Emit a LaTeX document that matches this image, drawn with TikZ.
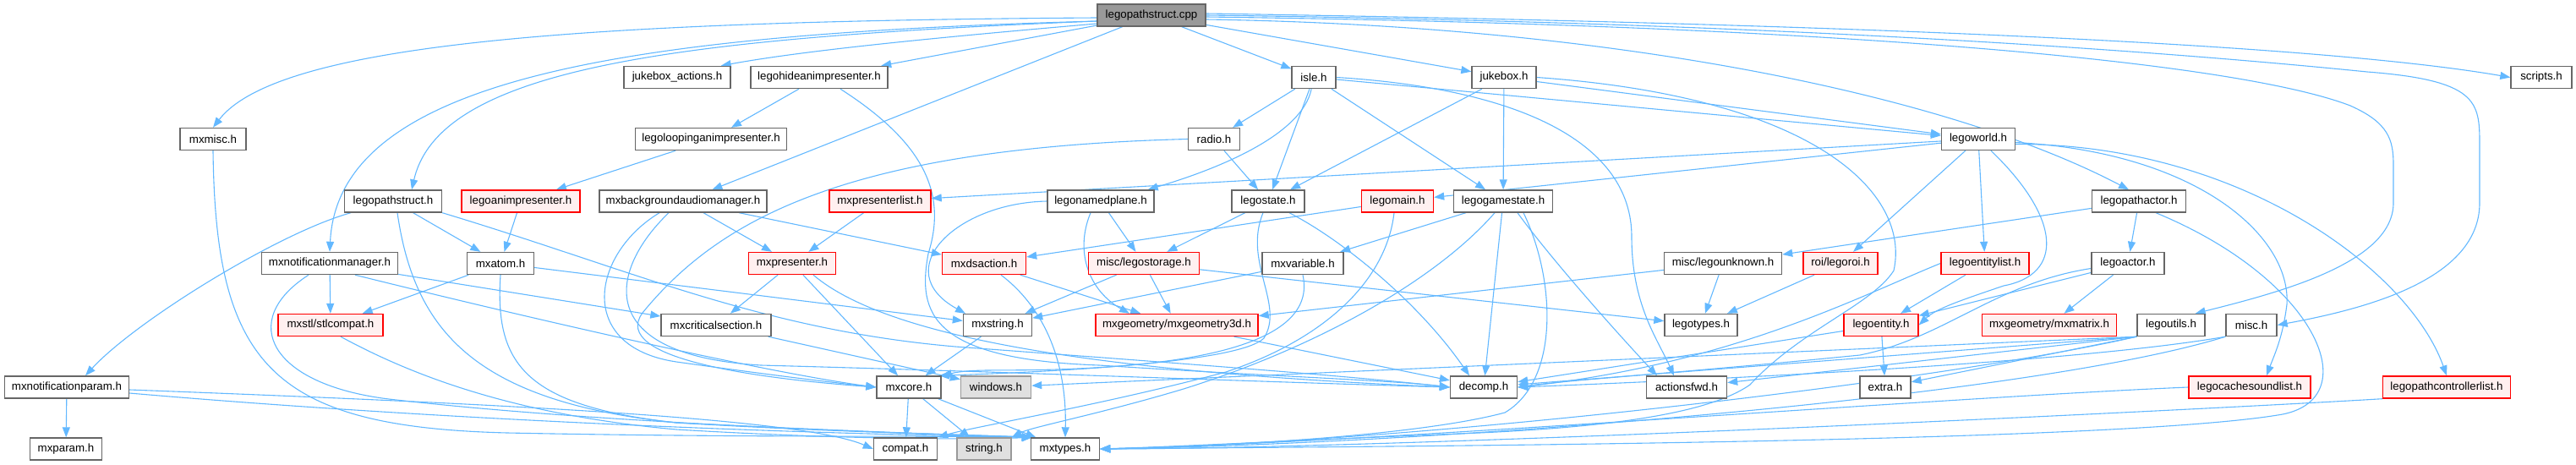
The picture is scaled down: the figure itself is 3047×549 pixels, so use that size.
\documentclass[tikz,border=0pt]{standalone}
\usepackage{fontspec}
\setmainfont{Liberation Sans}
\usetikzlibrary{arrows.meta}
\definecolor{edgec}{HTML}{63B8FF}
\definecolor{bordc}{HTML}{666666}
\definecolor{redf}{HTML}{FFF0F0}
\definecolor{topf}{HTML}{999999}
\definecolor{extf}{HTML}{E0E0E0}
\definecolor{extb}{HTML}{999999}
\pgfdeclarelayer{edges}
\pgfsetlayers{edges,main}
\tikzset{
 nb/.style={draw=bordc, fill=white, line width=1.4pt, minimum height=26pt, inner sep=1pt, font=\fontsize{13.3}{15}\selectfont, text=black},
 nred/.style={nb, draw=red, fill=redf},
 ntop/.style={nb, fill=topf},
 extn/.style={nb, draw=extb, fill=extf},
 dep/.style={draw=edgec, line width=1.1pt, -{Triangle[length=12pt,width=9pt]}},
}
\begin{document}
\begin{tikzpicture}[x=1pt,y=-1pt]
\useasboundingbox (0,0) rectangle (3047,549);
% row 1
\node[ntop,minimum width=128pt] (cpp) at (1362,18) {legopathstruct.cpp};
% row 2
\node[nb,minimum width=126pt] (jba) at (801,91.5) {jukebox\_actions.h};
\node[nb,minimum width=162pt] (lhap) at (969,91.5) {legohideanimpresenter.h};
\node[nb,minimum width=52pt] (isle) at (1554,91.5) {isle.h};
\node[nb,minimum width=76pt] (jb) at (1779,91.5) {jukebox.h};
\node[nb,minimum width=72pt] (scripts) at (3006,91.5) {scripts.h};
% row 3
\node[nb,minimum width=78pt] (mxmisc) at (252,164.5) {mxmisc.h};
\node[nb,minimum width=179pt] (llap) at (841,164.5) {legoloopinganimpresenter.h};
\node[nb,minimum width=61pt] (radio) at (1436,164.5) {radio.h};
\node[nb,minimum width=87pt] (lw) at (2340,164.5) {legoworld.h};
% row 4
\node[nb,minimum width=115pt] (lps) at (465,238) {legopathstruct.h};
\node[nred,minimum width=140pt] (lap) at (616,238) {legoanimpresenter.h};
\node[nb,minimum width=198pt] (mbam) at (808,238) {mxbackgroundaudiomanager.h};
\node[nred,minimum width=120pt] (mpl) at (1041,238) {mxpresenterlist.h};
\node[nb,minimum width=126pt] (lnp) at (1302,238) {legonamedplane.h};
\node[nb,minimum width=86pt] (ls) at (1500,238) {legostate.h};
\node[nred,minimum width=85pt] (lm) at (1653,238) {legomain.h};
\node[nb,minimum width=117pt] (lgs) at (1778,238) {legogamestate.h};
\node[nb,minimum width=111pt] (lpa) at (2530,238) {legopathactor.h};
% row 5
\node[nb,minimum width=161pt] (mnm) at (390,311.5) {mxnotificationmanager.h};
\node[nb,minimum width=79pt] (mxatom) at (592,311.5) {mxatom.h};
\node[nred,minimum width=103pt] (mxp) at (937,311.5) {mxpresenter.h};
\node[nred,minimum width=99pt] (mda) at (1164,311.5) {mxdsaction.h};
\node[nred,minimum width=131pt] (mls) at (1353,311.5) {misc/legostorage.h};
\node[nb,minimum width=96pt] (mxv) at (1541,311.5) {mxvariable.h};
\node[nb,minimum width=139pt] (mlu) at (2038,311.5) {misc/legounknown.h};
\node[nred,minimum width=88pt] (lroi) at (2177,311.5) {roi/legoroi.h};
\node[nred,minimum width=104pt] (lel) at (2348,311.5) {legoentitylist.h};
\node[nb,minimum width=86pt] (la) at (2517,311.5) {legoactor.h};
% row 6
\node[nred,minimum width=124pt] (stl) at (391,384.5) {mxstl/stlcompat.h};
\node[nb,minimum width=130pt] (mcs) at (847,384.5) {mxcriticalsection.h};
\node[nb,minimum width=81pt] (mxs) at (1180,384.5) {mxstring.h};
\node[nred,minimum width=192pt] (mg3) at (1392,384.5) {mxgeometry/mxgeometry3d.h};
\node[nb,minimum width=86pt] (lt) at (2012,384.5) {legotypes.h};
\node[nred,minimum width=88pt] (le) at (2225,384.5) {legoentity.h};
\node[nred,minimum width=159pt] (mxm) at (2424,384.5) {mxgeometry/mxmatrix.h};
\node[nb,minimum width=80pt] (lu) at (2568,384.5) {legoutils.h};
\node[nb,minimum width=60pt] (misc) at (2663,384.5) {misc.h};
% row 7
\node[nb,minimum width=147pt] (mnp) at (79,458) {mxnotificationparam.h};
\node[nb,minimum width=76pt] (mxcore) at (1075,458) {mxcore.h};
\node[extn,minimum width=83pt] (win) at (1178,458) {windows.h};
\node[nb,minimum width=79pt] (decomp) at (1755,458) {decomp.h};
\node[nb,minimum width=95pt] (afwd) at (1995,458) {actionsfwd.h};
\node[nb,minimum width=60pt] (extra) at (2230,458) {extra.h};
\node[nred,minimum width=144pt] (lcsl) at (2661,458) {legocachesoundlist.h};
\node[nred,minimum width=151pt] (lpcl) at (2894,458) {legopathcontrollerlist.h};
% row 8
\node[nb,minimum width=85pt] (mxparam) at (78,531) {mxparam.h};
\node[nb,minimum width=75pt] (compat) at (1071,531) {compat.h};
\node[extn,minimum width=64pt] (str) at (1164,531) {string.h};
\node[nb,minimum width=81pt] (mxt) at (1260,531) {mxtypes.h};

\begin{pgfonlayer}{edges}
% from legopathstruct.cpp
\draw[dep] ([yshift=-3pt]cpp.west) .. controls (700,25) and (330,50) .. (mxmisc.north);
\draw[dep] ([yshift=-7pt]cpp.west) .. controls (750,40) and (400,90) .. (mnm.north);
\draw[dep] ([yshift=-7pt]cpp.west) .. controls (800,45) and (520,80) .. ([xshift=22pt]lps.north);
\draw[dep] ([yshift=-10pt]cpp.west) .. controls (1100,45) and (950,60) .. ([xshift=-12pt]jba.north east);
\draw[dep] (cpp) -- (lhap);
\draw[dep] (cpp) -- (mbam);
\draw[dep] (cpp) -- (isle);
\draw[dep] (cpp) -- (jb);
\draw[dep] ([yshift=2pt]cpp.east) .. controls (2000,25) and (2700,45) .. (scripts.west);
\draw[dep] (cpp.east) .. controls (2200,28) and (2650,70) .. (2800,85) .. controls (2930,95) and (2933,120) .. (2933,170) -- (2933,240) .. controls (2933,330) and (2800,365) .. (misc.east);
\draw[dep] ([yshift=-2pt]cpp.east) .. controls (2200,30) and (2650,75) .. (2780,125) .. controls (2825,145) and (2831,165) .. (2831,195) -- (2831,240) .. controls (2831,310) and (2700,345) .. ([xshift=-12pt]lu.north east);
\draw[dep] ([yshift=-5pt]cpp.east) .. controls (1900,30) and (2300,110) .. ([xshift=-12pt]lpa.north);
% isle.h
\draw[dep] (isle) -- (radio);
\draw[dep] (isle) .. controls (1540,160) and (1440,200) .. ([xshift=-8pt]lnp.north east);
\draw[dep] (isle) -- (ls);
\draw[dep] (isle) -- (lw);
\draw[dep] (isle) -- (lgs);
\draw[dep] (isle.east) .. controls (1800,105) and (1930,170) .. (1930,280) .. controls (1930,360) and (1960,400) .. ([xshift=-15pt]afwd.north);
% jukebox.h
\draw[dep] (jb) -- (ls);
\draw[dep] (jb) -- (lgs);
\draw[dep] (jb) -- (lw);
\draw[dep] (jb.east) .. controls (2150,115) and (2260,230) .. (2240,320) .. controls (2215,360) and (2130,390) .. (2070,455) .. controls (2020,490) and (1900,505) .. (1750,512) .. controls (1550,520) and (1400,528) .. (mxt.east);
% legohideanimpresenter.h
\draw[dep] (lhap) -- (llap);
\draw[dep] ([xshift=25pt]lhap.south) .. controls (1095,170) and (1120,230) .. (1098,300) .. controls (1085,370) and (1100,425) .. (1300,432) .. controls (1500,445) and (1650,450) .. (decomp.west);
\draw[dep] (llap) -- (lap);
\draw[dep] (lap) -- (mxatom);
% mxmisc.h
\draw[dep] (mxmisc.south) .. controls (255,430) and (320,505) .. (600,512) .. controls (900,518) and (1100,515) .. ([xshift=2pt]mxt.north west);
% legopathstruct.h
\draw[dep] (lps) .. controls (330,275) and (160,380) .. ([xshift=22pt]mnp.north);
\draw[dep] (lps) -- (mxatom);
\draw[dep] ([xshift=5pt]lps.south) .. controls (490,390) and (560,475) .. (800,500) .. controls (1000,512) and (1150,514) .. ([xshift=2pt]mxt.north west);
\draw[dep] (lps.south east) .. controls (750,320) and (900,390) .. (1130,410) .. controls (1400,430) and (1600,445) .. (decomp.west);
% mxnotificationmanager.h
\draw[dep] (mnm) -- (stl);
\draw[dep] (mnm) -- (mcs);
\draw[dep] ([xshift=30pt]mnm.south) .. controls (600,370) and (900,440) .. (mxcore.west);
\draw[dep] ([xshift=-25pt]mnm.south) .. controls (280,380) and (320,455) .. (460,472) .. controls (700,500) and (1050,512) .. ([xshift=2pt]mxt.north west);
% mxnotificationparam.h
\draw[dep] (mnp) -- (mxparam);
\draw[dep] ([yshift=-3pt]mnp.east) .. controls (600,478) and (950,495) .. (compat.west);
\draw[dep] ([yshift=-7pt]mnp.east) .. controls (500,495) and (900,512) .. ([xshift=2pt]mxt.north west);
% mxatom.h, stlcompat
\draw[dep] (mxatom) -- (stl);
\draw[dep] (mxatom) -- (mxs);
\draw[dep] (mxatom.south) .. controls (585,430) and (620,480) .. (800,500) .. controls (1000,510) and (1150,515) .. ([xshift=2pt]mxt.north west);
\draw[dep] ([xshift=12pt]stl.south) .. controls (480,440) and (600,490) .. (800,508) .. controls (1000,520) and (1150,520) .. ([xshift=2pt]mxt.north west);
% mxbackgroundaudiomanager.h
\draw[dep] (mbam) -- (mxp);
\draw[dep] (mbam) -- (mda);
\draw[dep] ([xshift=-28pt]mbam.south) .. controls (700,300) and (680,410) .. (800,428) .. controls (900,442) and (980,452) .. (mxcore.west);
\draw[dep] ([xshift=-17pt]mbam.south) .. controls (720,320) and (700,420) .. (900,432) .. controls (1200,440) and (1500,452) .. (decomp.west);
% mxpresenterlist.h, mxpresenter.h
\draw[dep] (mpl) -- (mxp);
\draw[dep] (mxp) -- (mcs);
\draw[dep] (mxp) -- (mxcore);
\draw[dep] ([xshift=25pt]mxp.south) .. controls (1050,400) and (1300,440) .. (decomp.west);
% legonamedplane.h
\draw[dep] (lnp) -- (mls);
\draw[dep] ([xshift=-12pt]lnp.south) .. controls (1270,300) and (1290,345) .. ([xshift=-56pt]mg3.north);
\draw[dep] (lnp.west) .. controls (1130,240) and (1050,320) .. ([xshift=-38pt]mxs.north);
% legostate.h
\draw[dep] (ls) -- (mls);
\draw[dep] ([xshift=25pt]ls.south) .. controls (1590,285) and (1680,360) .. ([xshift=-17pt]decomp.north);
\draw[dep] ([xshift=-6pt]ls.south) .. controls (1470,310) and (1520,360) .. (1495,400) .. controls (1470,425) and (1300,438) .. ([xshift=-3pt]mxcore.north east);
% radio.h
\draw[dep] (radio) -- (ls);
\draw[dep] (radio.west) .. controls (1000,175) and (850,260) .. (760,370) .. controls (720,425) and (900,448) .. (mxcore.west);
% legoworld.h
\draw[dep] (lw) -- (mpl);
\draw[dep] (lw) -- (lm);
\draw[dep] (lw) -- (lroi);
\draw[dep] (lw) -- (lel);
\draw[dep] ([xshift=15pt]lw.south) .. controls (2440,260) and (2440,325) .. (2370,338) .. controls (2320,355) and (2290,365) .. (le.east);
\draw[dep] ([yshift=-4pt]lw.east) .. controls (2600,180) and (2710,280) .. (2705,360) .. controls (2700,400) and (2690,420) .. ([xshift=20pt]lcsl.north);
\draw[dep] ([yshift=-6pt]lw.east) .. controls (2650,170) and (2850,320) .. (lpcl.north);
% legopathactor.h
\draw[dep] (lpa) -- (mlu);
\draw[dep] (lpa) -- (la);
\draw[dep] ([xshift=20pt]lpa.south) .. controls (2740,330) and (2800,470) .. (2700,490) .. controls (2500,525) and (1600,528) .. (mxt.east);
% legoactor.h
\draw[dep] (la) -- (le);
\draw[dep] (la) -- (mxm);
\draw[dep] ([yshift=-6pt]la.west) .. controls (2360,335) and (2300,400) .. (2200,420) .. controls (2000,440) and (1850,450) .. (decomp.east);
% legoentity.h, legoentitylist.h
\draw[dep] (le) -- (extra);
\draw[dep] (le) -- (decomp);
\draw[dep] (lel) -- (le);
\draw[dep] (lel.west) .. controls (2200,350) and (2050,430) .. (decomp.east);
% roi, unknown, storage, dsaction
\draw[dep] (lroi) -- (lt);
\draw[dep] (mlu) -- (lt);
\draw[dep] (mlu) -- (mg3);
\draw[dep] (mls) -- (mxs);
\draw[dep] (mls) -- (mg3);
\draw[dep] (mls) -- (lt);
\draw[dep] (mda) -- (mg3);
\draw[dep] ([xshift=20pt]mda.south) .. controls (1230,360) and (1262,420) .. (mxt.north);
% mxstring, mxcriticalsection, mxcore, geometry, variable
\draw[dep] (mxs) -- (mxcore);
\draw[dep] (mcs) -- (win);
\draw[dep] (mxcore) -- (compat);
\draw[dep] (mxcore) -- (str);
\draw[dep] (mxcore) -- (mxt);
\draw[dep] (mg3) -- (decomp);
\draw[dep] (mxv) -- (mxs);
\draw[dep] (mxv.south) .. controls (1560,410) and (1400,432) .. (1250,437) .. controls (1180,439) and (1150,436) .. (mxcore.north east);
% legogamestate.h
\draw[dep] (lgs) -- (mxv);
\draw[dep] (lgs) -- (decomp);
\draw[dep] ([xshift=17pt]lgs.south) .. controls (1830,300) and (1900,380) .. ([xshift=-35pt]afwd.north);
\draw[dep] ([xshift=24pt]lgs.south) .. controls (1840,330) and (1845,450) .. (1780,488) .. controls (1680,515) and (1450,528) .. (mxt.east);
\draw[dep] ([xshift=-10pt]lgs.south) .. controls (1700,330) and (1560,410) .. (1400,460) .. controls (1300,490) and (1220,505) .. (str.north east);
% legomain.h
\draw[dep] (lm) -- (mda);
\draw[dep] ([xshift=-4pt]lm.south) .. controls (1640,330) and (1570,400) .. (1450,440) .. controls (1300,480) and (1150,505) .. (compat.north east);
% legoutils.h
\draw[dep] (lu.south west) -- (extra);
\draw[dep] (lu.south west) -- (afwd);
\draw[dep] (lu.south west) -- (decomp);
\draw[dep] (lu.south west) -- (win);
\draw[dep] (lu.south west) .. controls (2300,450) and (1700,522) .. (mxt.east);
% misc.h
\draw[dep] (misc.south west) .. controls (2450,430) and (2000,450) .. (decomp.east);
\draw[dep] (misc.south west) .. controls (2400,470) and (1700,525) .. (mxt.east);
% sound / controller lists
\draw[dep] (lcsl.west) .. controls (2300,470) and (1600,525) .. (mxt.east);
\draw[dep] (lpcl.south west) .. controls (2650,482) and (1700,530) .. (mxt.east);
\end{pgfonlayer}
\end{tikzpicture}
\end{document}
